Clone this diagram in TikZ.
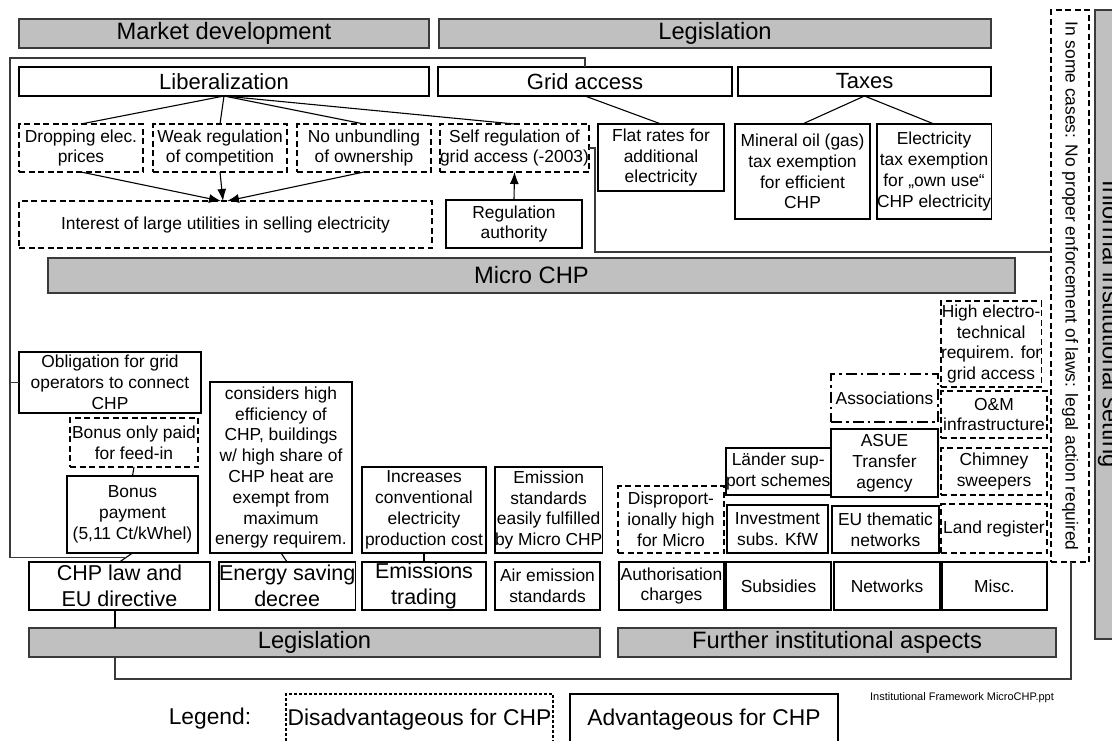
\documentclass[tikz,border=0pt]{standalone}
\usepackage{fontspec}
\setmainfont{Liberation Sans}
\usetikzlibrary{arrows.meta,calc}
\definecolor{barfill}{HTML}{C0C0C0}
\definecolor{framec}{HTML}{3A3A3A}
\newcommand{\ftTitle}{\fontsize{23.7}{28}\selectfont}
\newcommand{\ftLeg}{\fontsize{22.8}{27}\selectfont}
\newcommand{\ftMid}{\fontsize{22}{26}\selectfont}
\newcommand{\ftLaw}{\fontsize{21.5}{25.5}\selectfont}
\newcommand{\ftSmall}{\fontsize{17.4}{20.8}\selectfont}
\newcommand{\ftTiny}{\fontsize{11}{13}\selectfont}
\tikzset{
  R/.style n args={4}{at={(#1,#2)}, anchor=north west,
     minimum width={(#3-#1)*1pt}, minimum height={(#4-#2)*1pt}},
  base/.style={inner sep=0pt, outer sep=0pt, align=center},
  bar/.style={base, draw=framec, fill=barfill, line width=1.1pt, font=\ftTitle},
  hbox/.style={base, draw, line width=1.1pt, font=\ftMid},
  sbox/.style={base, draw, line width=1.1pt, font=\ftSmall},
  lbox/.style={base, draw, line width=1.1pt, font=\ftLaw},
  dbox/.style={base, draw, line width=1.5pt, dash pattern=on 6pt off 3.5pt, font=\ftSmall},
  ddbox/.style={base, draw, line width=1.5pt, dash pattern=on 11pt off 4pt on 2.5pt off 4pt, font=\ftSmall},
  legd/.style={base, draw, line width=1.1pt, dash pattern=on 3pt off 2pt, font=\ftLeg},
  legs/.style={base, draw, line width=1.1pt, font=\ftLeg},
  conn/.style={line width=1.1pt},
  arr/.style={line width=1.1pt, -{Latex[length=12pt,width=9pt]}},
  frame/.style={draw=framec, line width=1.1pt},
}
\begin{document}
\begin{tikzpicture}[x=1pt,y=-1pt]
\useasboundingbox (0,0) rectangle (1112,740);
\clip (0,0) rectangle (1112,740);
\fill[white] (0,0) rectangle (1112,740);

% top bars
\node[bar, R={19}{19}{429}{48}] (mdbar) {Market development};
\node[bar, R={439}{19}{991}{48}] (legtop) {Legislation};
\node[hbox, R={19}{67}{429}{96}] (lib) {Liberalization};
\node[hbox, R={438}{67}{732}{96}] (grid) {Grid access};
\node[hbox, R={738}{67}{991}{96}] (taxes) {Taxes};

% second row
\node[dbox, R={19}{124}{143}{172}] (drop) {Dropping elec.\\prices};
\node[dbox, R={153}{124}{287}{172}] (weak) {Weak regulation\\of competition};
\node[dbox, R={297}{124}{431}{172}] (unb) {No unbundling\\of ownership};
\node[dbox, R={440}{124}{589}{172}] (selfreg) {Self regulation of\\grid access (-2003)};
\node[sbox, R={598}{124}{724}{191}] (flat) {Flat rates for\\additional\\electricity};
\node[sbox, R={735}{124}{870}{219}] (mineral) {Mineral oil (gas)\\tax exemption\\for efficient\\CHP};
\node[sbox, R={877}{124}{991}{219}] (elec) {Electricity\\tax exemption\\for „own use“\\CHP electricity};

\node[dbox, R={19}{201}{432}{248}] (interest) {Interest of large utilities in selling electricity};
\node[sbox, R={446}{200}{582}{248}] (regauth) {Regulation\\authority};

\node[bar, R={48}{258}{1015}{293}] (micro) {Micro CHP};

% lower part
\node[sbox, R={19}{352}{201}{413}] (oblig) {Obligation for grid\\operators to connect\\CHP};
\node[dbox, R={70}{418}{198}{467}] (bonusonly) {Bonus only paid\\for feed-in};
\node[sbox, R={67}{476}{198}{553}] (bonuspay) {Bonus\\payment\\(5,11 Ct/kWhel)};
\node[sbox, R={210}{382}{352}{553}] (considers) {considers high\\efficiency of\\CHP, buildings\\w/ high share of\\CHP heat are\\exempt from\\maximum\\energy requirem.};
\node[sbox, R={362}{467}{486}{553}] (increases) {Increases\\conventional\\electricity\\production cost};
\node[sbox, R={495}{467}{601}{553}] (emstd) {Emission\\standards\\easily fulfilled\\by Micro CHP};
\node[dbox, R={618}{486}{724}{553}] (dispro) {Disproport-\\ionally high\\for Micro};
\node[sbox, R={726}{448}{828}{495}] (laender) {Länder sup-\\port schemes};
\node[sbox, R={727}{505}{828}{553}] (invest) {Investment\\subs. KfW};
\node[ddbox, R={831}{374}{938}{422}] (assoc) {Associations};
\node[sbox, R={831}{429}{938}{497}] (asue) {ASUE\\Transfer\\agency};
\node[sbox, R={832}{506}{939}{553}] (euthem) {EU thematic\\networks};
\node[dbox, R={941}{301}{1036}{387}] (highel) {High electro-\\technical\\requirem. for\\grid access};
\node[dbox, R={941}{391}{1047}{438}] (om) {O\&M\\infrastructure};
\node[dbox, R={941}{448}{1047}{495}] (chimney) {Chimney\\sweepers};
\node[dbox, R={941}{504}{1047}{553}] (land) {Land register};

% bottom row
\node[lbox, R={29}{562}{210}{610}] (chplaw) {CHP law and\\EU directive};
\node[lbox, R={219}{562}{352}{610}] (esave) {Energy saving\\decree};
\node[lbox, R={362}{562}{486}{610}] (emtrade) {Emissions\\trading};
\node[sbox, R={495}{562}{600}{610}] (airem) {Air emission\\standards};
\node[sbox, R={619}{562}{724}{610}] (authch) {Authorisation\\charges};
\node[sbox, R={726}{562}{831}{610}] (subs) {Subsidies};
\node[sbox, R={834}{562}{940}{610}] (netw) {Networks};
\node[sbox, R={942}{562}{1047}{610}] (misc) {Misc.};

\node[bar, R={29}{628}{600}{657}] (legbot) {Legislation};
\node[bar, R={618}{628}{1056}{657}] (further) {Further institutional aspects};

% right side
\node[dbox, R={1051}{10}{1089}{562}] (insome) {};
\node[rotate=-90, font=\ftSmall, inner sep=0pt] (insometxt) at (insome.center) {In some cases: No proper enforcement of laws: legal action required};
\node[bar, R={1095}{10}{1135}{639}] (informal) {};
\node[rotate=-90, font=\ftTitle, inner sep=0pt] (informaltxt) at (1109,324) {Informal institutional setting};

% legend
\node[font=\ftLeg, inner sep=0pt] (legendtxt) at (210,719) {Legend:};
\node[legd, R={286}{694}{553}{746}] (disadv) {Disadvantageous for CHP};
\node[legs, R={570}{694}{838}{746}] (adv) {Advantageous for CHP};
\node[font=\ftTiny, inner sep=0pt] (fname) at (962,698) {Institutional Framework MicroCHP.ppt};

% connectors
\draw[conn] (lib.south) -- (drop.north);
\draw[conn] (lib.south) -- (weak.north);
\draw[conn] (lib.south) -- (unb.north);
\draw[conn] (lib.south) -- (selfreg.north);
\draw[arr] (drop.south) -- ($(interest.north)+(-4.5,0)$);
\draw[arr] (weak.south) -- ($(interest.north)+(-2.5,0)$);
\draw[arr] (unb.south) -- ($(interest.north)+(1.5,0)$);
\draw[arr] (regauth.north) -- (selfreg.south);
\draw[conn] (grid.south) -- (flat.north);
\draw[conn] (taxes.south) -- (mineral.north);
\draw[conn] (taxes.south) -- (elec.north);

\draw[conn] (bonusonly.south) -- (bonuspay.north);
\draw[conn] (bonuspay.south) -- (chplaw.north);
\draw[conn] (considers.south) -- (esave.north);
\draw[conn] (increases.south) -- (emtrade.north);

% frames
\coordinate (f2) at (10,58);
\coordinate (fm) at ($(bonuspay.south)!0.5!(chplaw.north)$);
\draw[frame] (grid.north) -- (grid.north |- f2) -- (f2) -- (f2 |- fm) -- (fm);
\draw[frame] (oblig.west) -- (oblig.west -| f2);

\coordinate (g1) at (595,252);
\draw[frame] (selfreg.east) -| (g1) -- (g1 -| insome.west);

\coordinate (h1) at (115,679);
\coordinate (h2) at (1071,679);
\draw[conn] (chplaw.south -| h1) -- (legbot.north -| h1);
\draw[frame] (legbot.south -| h1) -- (h1) -- (h2) -- (h2 |- insome.south);
\end{tikzpicture}
\end{document}
